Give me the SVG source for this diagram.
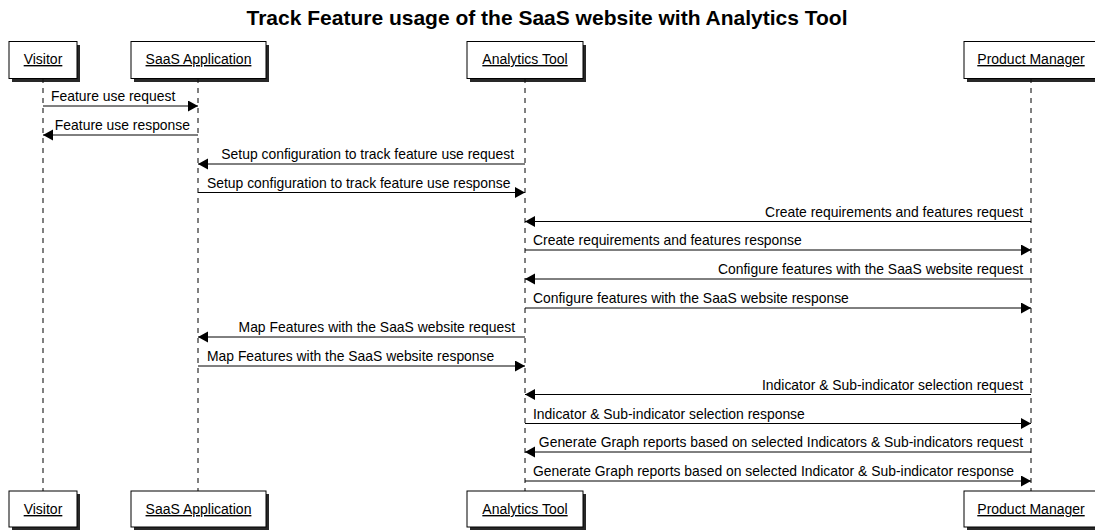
<svg xmlns="http://www.w3.org/2000/svg" width="1095" height="531" viewBox="0 0 1095 531">
<style>
.title{font-family:"Liberation Sans",Arial,sans-serif;font-size:21px;font-weight:bold;fill:#000;text-anchor:middle}
.pbox{fill:#fff;stroke:#000;stroke-width:1}
.shadow{fill:#111;opacity:0.9}
.plabel{font-family:"Liberation Sans",Arial,sans-serif;font-size:14px;fill:#000;text-anchor:middle;text-decoration:underline}
.life{stroke:#000;stroke-width:1;stroke-dasharray:5,5;fill:none}
.msg{stroke:#000;stroke-width:1;fill:none;marker-end:url(#ah)}
.mtext{font-family:"Liberation Sans",Arial,sans-serif;font-size:13.9px;fill:#000}
.end{text-anchor:end}
</style>
<defs>
<marker id="ah" markerUnits="userSpaceOnUse" markerWidth="12" markerHeight="12" refX="10" refY="5.5" orient="auto">
<path d="M0,0 L10,5.5 L0,11 Z" fill="#000"/>
</marker>
</defs>
<rect width="1095" height="531" fill="#fff"/>
<text class="title" x="547" y="25">Track Feature usage of the SaaS website with Analytics Tool</text>

<g id="lifelines">
<line class="life" x1="43" y1="78" x2="43" y2="491"/>
<line class="life" x1="198" y1="78" x2="198" y2="491"/>
<line class="life" x1="525" y1="78" x2="525" y2="491"/>
<line class="life" x1="1031" y1="78" x2="1031" y2="491"/>
</g>

<g id="visitor">
<rect class="shadow" x="12" y="45" width="68" height="37"/>
<rect class="pbox" x="9" y="41.5" width="68" height="37"/>
<text class="plabel" x="43" y="64">Visitor</text>
<rect class="shadow" x="12" y="494" width="68" height="36"/>
<rect class="pbox" x="9" y="491" width="68" height="36"/>
<text class="plabel" x="43" y="514">Visitor</text>
</g>
<g id="saas">
<rect class="shadow" x="134" y="45" width="135" height="37"/>
<rect class="pbox" x="131" y="41.5" width="135" height="37"/>
<text class="plabel" x="198.5" y="64">SaaS Application</text>
<rect class="shadow" x="134" y="494" width="135" height="36"/>
<rect class="pbox" x="131" y="491" width="135" height="36"/>
<text class="plabel" x="198.5" y="514">SaaS Application</text>
</g>
<g id="analytics">
<rect class="shadow" x="470" y="45" width="116" height="37"/>
<rect class="pbox" x="467" y="41.5" width="116" height="37"/>
<text class="plabel" x="525" y="64">Analytics Tool</text>
<rect class="shadow" x="470" y="494" width="116" height="36"/>
<rect class="pbox" x="467" y="491" width="116" height="36"/>
<text class="plabel" x="525" y="514">Analytics Tool</text>
</g>
<g id="pm">
<rect class="shadow" x="967" y="45" width="134" height="37"/>
<rect class="pbox" x="964" y="41.5" width="134" height="37"/>
<text class="plabel" x="1031" y="64">Product Manager</text>
<rect class="shadow" x="967" y="494" width="134" height="36"/>
<rect class="pbox" x="964" y="491" width="134" height="36"/>
<text class="plabel" x="1031" y="514">Product Manager</text>
</g>

<g id="connectors">
<line class="msg" x1="43" y1="106" x2="198" y2="106"/>
<line class="msg" x1="198" y1="135" x2="43" y2="135"/>
<line class="msg" x1="525" y1="164" x2="198" y2="164"/>
<line class="msg" x1="198" y1="192.5" x2="525" y2="192.5"/>
<line class="msg" x1="1031" y1="221.5" x2="525" y2="221.5"/>
<line class="msg" x1="525" y1="250" x2="1031" y2="250"/>
<line class="msg" x1="1031" y1="279" x2="525" y2="279"/>
<line class="msg" x1="525" y1="308" x2="1031" y2="308"/>
<line class="msg" x1="525" y1="337" x2="198" y2="337"/>
<line class="msg" x1="198" y1="366" x2="525" y2="366"/>
<line class="msg" x1="1031" y1="394.5" x2="525" y2="394.5"/>
<line class="msg" x1="525" y1="423.5" x2="1031" y2="423.5"/>
<line class="msg" x1="1031" y1="452" x2="525" y2="452"/>
<line class="msg" x1="525" y1="481" x2="1031" y2="481"/>
</g>

<g id="labels">
<text class="mtext" x="51" y="101">Feature use request</text>
<text class="mtext end" x="190" y="130">Feature use response</text>
<text class="mtext end" x="514" y="159">Setup configuration to track feature use request</text>
<text class="mtext" x="207" y="187.5">Setup configuration to track feature use response</text>
<text class="mtext end" x="1023" y="216.5">Create requirements and features request</text>
<text class="mtext" x="533" y="245">Create requirements and features response</text>
<text class="mtext end" x="1023" y="274">Configure features with the SaaS website request</text>
<text class="mtext" x="533" y="303">Configure features with the SaaS website response</text>
<text class="mtext end" x="515" y="332">Map Features with the SaaS website request</text>
<text class="mtext" x="207" y="361">Map Features with the SaaS website response</text>
<text class="mtext end" x="1023" y="389.5">Indicator &amp; Sub-indicator selection request</text>
<text class="mtext" x="533" y="418.5">Indicator &amp; Sub-indicator selection response</text>
<text class="mtext end" x="1023" y="447">Generate Graph reports based on selected Indicators &amp; Sub-indicators request</text>
<text class="mtext" x="533" y="476">Generate Graph reports based on selected Indicator &amp; Sub-indicator response</text>
</g>
</svg>
